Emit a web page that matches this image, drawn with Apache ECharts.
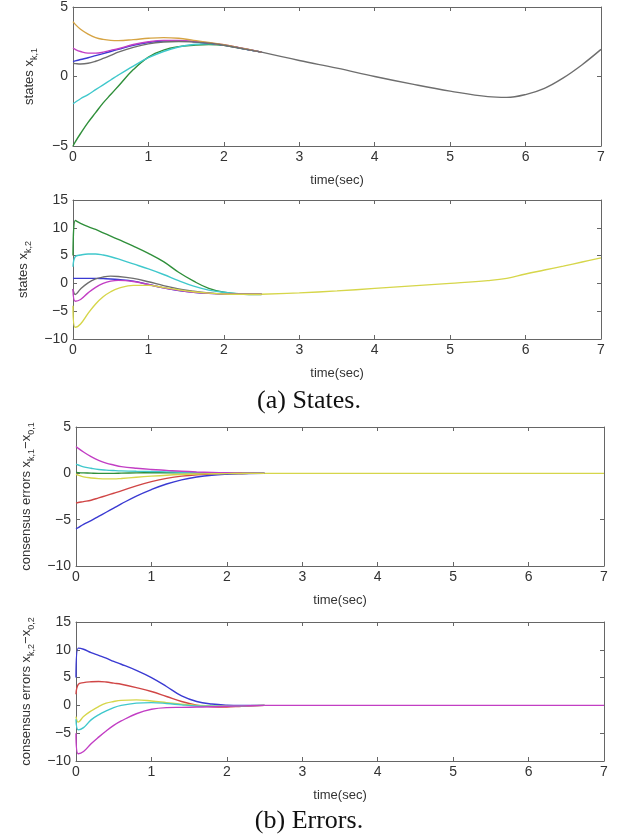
<!DOCTYPE html>
<html lang="en">
<head>
    <meta charset="UTF-8">
    <title>states and errors</title>
    <script src="https://cdn.jsdelivr.net/npm/echarts@6/dist/echarts.min.js"></script>
    <style>
        html, body { margin: 0; padding: 0; background: #fff; }
        #main { width: 618px; height: 838px; }
    </style>
</head>
<body>
<div id="main"></div>
<script>
    // sample times for the transient part and for the converged tail
    const tEarly = [0, 0.03, 0.1, 0.2, 0.3, 0.4, 0.5, 0.6, 0.8, 1.0, 1.2, 1.4, 1.6, 1.8, 2.0, 2.2, 2.5];
    const tTail = [2.5, 3, 3.5, 4, 4.5, 5, 5.5, 5.75, 6, 6.25, 6.5, 6.75, 7];
    const xTicks = [0, 1, 2, 3, 4, 5, 6, 7];

    // (a) states x_{k,1}
    const s1Gold    = [3.95, 3.75, 3.4, 3.05, 2.8, 2.67, 2.6, 2.58, 2.65, 2.75, 2.8, 2.75, 2.6, 2.45, 2.28, 2.08, 1.75];
    const s1Magenta = [2.05, 1.95, 1.8, 1.68, 1.68, 1.75, 1.88, 2.0, 2.3, 2.5, 2.6, 2.6, 2.52, 2.42, 2.28, 2.08, 1.75];
    const s1Blue    = [1.07, 1.12, 1.22, 1.35, 1.5, 1.65, 1.8, 1.95, 2.25, 2.45, 2.55, 2.57, 2.5, 2.4, 2.26, 2.06, 1.75];
    const s1Cyan    = [-1.95, -1.85, -1.6, -1.3, -0.95, -0.6, -0.25, 0.1, 0.75, 1.35, 1.8, 2.12, 2.3, 2.36, 2.26, 2.06, 1.75];
    const s1Green   = [-5, -4.7, -4.1, -3.3, -2.6, -1.9, -1.3, -0.7, 0.5, 1.4, 1.9, 2.15, 2.25, 2.3, 2.24, 2.05, 1.75];
    const s1Gray    = [0.95, 0.93, 0.9, 0.95, 1.1, 1.3, 1.52, 1.75, 2.1, 2.35, 2.48, 2.52, 2.48, 2.4, 2.25, 2.05, 1.75];
    const s1Tail    = [1.75, 1.15, 0.6, 0.0, -0.55, -1.05, -1.45, -1.5, -1.3, -0.85, -0.1, 0.85, 1.95];

    // (a) states x_{k,2}
    const s2Green   = [5, 11.3, 10.8, 10.2, 9.7, 9.1, 8.5, 7.9, 6.7, 5.4, 3.9, 2.0, 0.4, -0.9, -1.6, -1.9, -2.0];
    const s2Cyan    = [3, 4.8, 5.1, 5.3, 5.3, 5.1, 4.8, 4.4, 3.5, 2.6, 1.6, 0.5, -0.5, -1.2, -1.6, -1.85, -1.95];
    const s2Blue    = [0.9, 0.9, 0.9, 0.9, 0.9, 0.85, 0.8, 0.7, 0.4, -0.2, -0.8, -1.3, -1.6, -1.8, -1.9, -1.95, -1.95];
    const s2Gray    = [-1.0, -2.0, -1.0, 0.1, 0.8, 1.15, 1.3, 1.25, 0.9, 0.3, -0.4, -1.0, -1.4, -1.7, -1.9, -1.95, -1.95];
    const s2Magenta = [-1, -3.2, -2.9, -1.7, -0.7, 0.0, 0.4, 0.55, 0.35, -0.2, -0.8, -1.25, -1.6, -1.8, -1.9, -1.95, -1.95];
    const s2Yellow  = [-4, -7.9, -7.3, -5.4, -3.7, -2.4, -1.5, -0.9, -0.35, -0.35, -0.75, -1.15, -1.5, -1.75, -1.9, -1.95, -1.95];
    const s2Tail    = [-1.95, -1.7, -1.35, -0.9, -0.45, 0.0, 0.5, 0.9, 1.7, 2.4, 3.1, 3.85, 4.6];

    // (b) errors x_{k,1} - x_{0,1}
    const e1Magenta = [2.9, 2.7, 2.3, 1.8, 1.4, 1.1, 0.9, 0.73, 0.55, 0.42, 0.32, 0.22, 0.15, 0.1, 0.06, 0.03, 0];
    const e1Cyan    = [1.0, 0.9, 0.7, 0.55, 0.42, 0.35, 0.3, 0.26, 0.22, 0.2, 0.16, 0.12, 0.08, 0.05, 0.03, 0.02, 0];
    const e1Green   = [0.1, 0.08, 0.05, 0.02, 0.0, 0.0, 0.0, 0.02, 0.05, 0.06, 0.06, 0.05, 0.04, 0.03, 0.02, 0.01, 0];
    const e1Red     = [-3.2, -3.15, -3.05, -2.9, -2.65, -2.4, -2.15, -1.9, -1.35, -0.9, -0.55, -0.3, -0.15, -0.08, -0.03, -0.01, 0];
    const e1Blue    = [-6.0, -5.85, -5.5, -5.1, -4.65, -4.2, -3.75, -3.3, -2.45, -1.75, -1.15, -0.7, -0.4, -0.2, -0.1, -0.05, 0];
    const e1Yellow  = [-0.1, -0.2, -0.38, -0.5, -0.57, -0.6, -0.6, -0.55, -0.42, -0.3, -0.2, -0.13, -0.08, -0.05, -0.03, -0.01, 0];
    const e1Tail    = [0, 0, 0, 0, 0, 0, 0, 0, 0, 0, 0, 0, 0];

    // (b) errors x_{k,2} - x_{0,2}
    const e2Blue    = [5, 10.3, 10.1, 9.5, 9.0, 8.5, 7.9, 7.4, 6.3, 5.0, 3.4, 1.7, 0.7, 0.25, 0.05, 0, 0];
    const e2Red     = [2, 3.8, 4.1, 4.25, 4.3, 4.2, 4.0, 3.8, 3.2, 2.5, 1.6, 0.7, 0.05, -0.25, -0.3, -0.15, 0];
    const e2Yellow  = [-2, -3.0, -2.0, -1.0, -0.2, 0.4, 0.7, 0.9, 1.0, 0.8, 0.5, 0.2, 0.0, -0.1, -0.1, -0.05, 0];
    const e2Cyan    = [-2.5, -4.4, -4.0, -2.6, -1.7, -1.0, -0.4, 0.0, 0.4, 0.5, 0.35, 0.1, -0.1, -0.15, -0.1, -0.05, 0];
    const e2Magenta = [-5, -8.7, -8.3, -6.9, -5.7, -4.6, -3.6, -2.8, -1.5, -0.7, -0.4, -0.35, -0.3, -0.25, -0.15, -0.08, 0];
    const e2Tail    = [0, 0, 0, 0, 0, 0, 0, 0, 0, 0, 0, 0, 0];

    const C = {
        gold: '#d6a444', magenta: '#c23ec4', blue: '#3a3ad2', cyan: '#40c8cc',
        green: '#2f8f3a', gray: '#6e6e6e', yellow: '#d6d64a', red: '#d04646'
    };

    const SANS = 'Liberation Sans, Arial, sans-serif';
    const SERIF = 'Liberation Serif, Times New Roman, serif';

    // grid boxes, in pixels
    const grids = [
        { left: 73, top: 6, width: 528, height: 140 },
        { left: 73, top: 200, width: 528, height: 139 },
        { left: 76, top: 427, width: 528, height: 139 },
        { left: 76, top: 622, width: 528, height: 139 }
    ];

    const yRanges = [[-5, 5, 5], [-10, 15, 5], [-10, 5, 5], [-10, 15, 5]];
    const yNames = [
        '{a|states x}{s|k,1}',
        '{a|states x}{s|k,2}',
        '{a|consensus errors x}{s|k,1}{a|\u2212x}{s|0,1}',
        '{a|consensus errors x}{s|k,2}{a|\u2212x}{s|0,2}'
    ];

    function pts(times, vals) {
        return times.map(function (t, i) { return [t, vals[i]]; });
    }

    let xAxes = [], yAxes = [], series = [];
    const lineColor = '#666';

    grids.forEach(function (g, i) {
        // bottom x axis with labels
        xAxes.push({
            type: 'value', gridIndex: i, min: 0, max: 7, interval: 1, position: 'bottom',
            axisLine: { onZero: false, lineStyle: { color: lineColor, width: 1 } },
            axisTick: { inside: true, length: 4, lineStyle: { color: lineColor } },
            axisLabel: { color: '#333', fontSize: 14, fontFamily: SANS, margin: 4 },
            splitLine: { show: false },
            name: 'time(sec)', nameLocation: 'middle', nameGap: 28,
            nameTextStyle: { color: '#333', fontSize: 13, fontFamily: SANS }
        });
        // top x axis: frame + ticks only
        xAxes.push({
            type: 'value', gridIndex: i, min: 0, max: 7, interval: 1, position: 'top',
            axisLine: { onZero: false, lineStyle: { color: lineColor, width: 1 } },
            axisTick: { inside: true, length: 4, lineStyle: { color: lineColor } },
            axisLabel: { show: false }, splitLine: { show: false }
        });
        const r = yRanges[i];
        yAxes.push({
            type: 'value', gridIndex: i, min: r[0], max: r[1], interval: r[2], position: 'left',
            axisLine: { show: true, onZero: false, lineStyle: { color: lineColor, width: 1 } },
            axisTick: { show: true, inside: true, length: 4, lineStyle: { color: lineColor } },
            axisLabel: {
                color: '#333', fontSize: 14, fontFamily: SANS, margin: 5,
                formatter: function (v) { return v < 0 ? '\u2212' + (-v) : String(v); }
            },
            splitLine: { show: false },
            name: yNames[i], nameLocation: 'middle', nameRotate: 90, nameGap: i < 2 ? 34 : 38,
            nameTextStyle: {
                rich: {
                    a: { fontSize: 13, color: '#333', fontFamily: SANS, lineHeight: 20, verticalAlign: 'middle' },
                    s: { fontSize: 9, color: '#333', fontFamily: SANS, lineHeight: 10, verticalAlign: 'bottom' }
                }
            }
        });
        yAxes.push({
            type: 'value', gridIndex: i, min: r[0], max: r[1], interval: r[2], position: 'right',
            axisLine: { show: true, onZero: false, lineStyle: { color: lineColor, width: 1 } },
            axisTick: { show: true, inside: true, length: 4, lineStyle: { color: lineColor } },
            axisLabel: { show: false }, splitLine: { show: false }
        });
    });

    function addLine(panel, color, times, vals) {
        series.push({
            type: 'line', xAxisIndex: panel * 2, yAxisIndex: panel * 2,
            data: pts(times, vals), showSymbol: false, smooth: 0.4,
            lineStyle: { color: color, width: 1.4 }, silent: true, animation: false
        });
    }

    addLine(0, C.green, tEarly, s1Green);
    addLine(0, C.cyan, tEarly, s1Cyan);
    addLine(0, C.blue, tEarly, s1Blue);
    addLine(0, C.magenta, tEarly, s1Magenta);
    addLine(0, C.gold, tEarly, s1Gold);
    addLine(0, C.gray, tEarly, s1Gray);
    addLine(0, C.gray, tTail, s1Tail);

    addLine(1, C.green, tEarly, s2Green);
    addLine(1, C.cyan, tEarly, s2Cyan);
    addLine(1, C.blue, tEarly, s2Blue);
    addLine(1, C.gray, tEarly, s2Gray);
    addLine(1, C.magenta, tEarly, s2Magenta);
    addLine(1, C.yellow, tEarly, s2Yellow);
    addLine(1, C.yellow, tTail, s2Tail);

    addLine(2, C.green, tEarly, e1Green);
    addLine(2, C.cyan, tEarly, e1Cyan);
    addLine(2, C.magenta, tEarly, e1Magenta);
    addLine(2, C.red, tEarly, e1Red);
    addLine(2, C.blue, tEarly, e1Blue);
    addLine(2, C.yellow, tEarly, e1Yellow);
    addLine(2, C.yellow, tTail, e1Tail);

    addLine(3, C.blue, tEarly, e2Blue);
    addLine(3, C.red, tEarly, e2Red);
    addLine(3, C.yellow, tEarly, e2Yellow);
    addLine(3, C.cyan, tEarly, e2Cyan);
    addLine(3, C.magenta, tEarly, e2Magenta);
    addLine(3, C.magenta, tTail, e2Tail);

    let myChart = echarts.init(document.getElementById('main'));
    myChart.setOption({
        animation: false,
        backgroundColor: '#fff',
        title: [
            { text: '(a) States.', left: 'center', top: 383,
              textStyle: { fontFamily: SERIF, fontSize: 26, fontWeight: 'normal', color: '#111' } },
            { text: '(b) Errors.', left: 'center', top: 803,
              textStyle: { fontFamily: SERIF, fontSize: 26, fontWeight: 'normal', color: '#111' } }
        ],
        grid: grids,
        xAxis: xAxes,
        yAxis: yAxes,
        series: series
    });
</script>
</body>
</html>
